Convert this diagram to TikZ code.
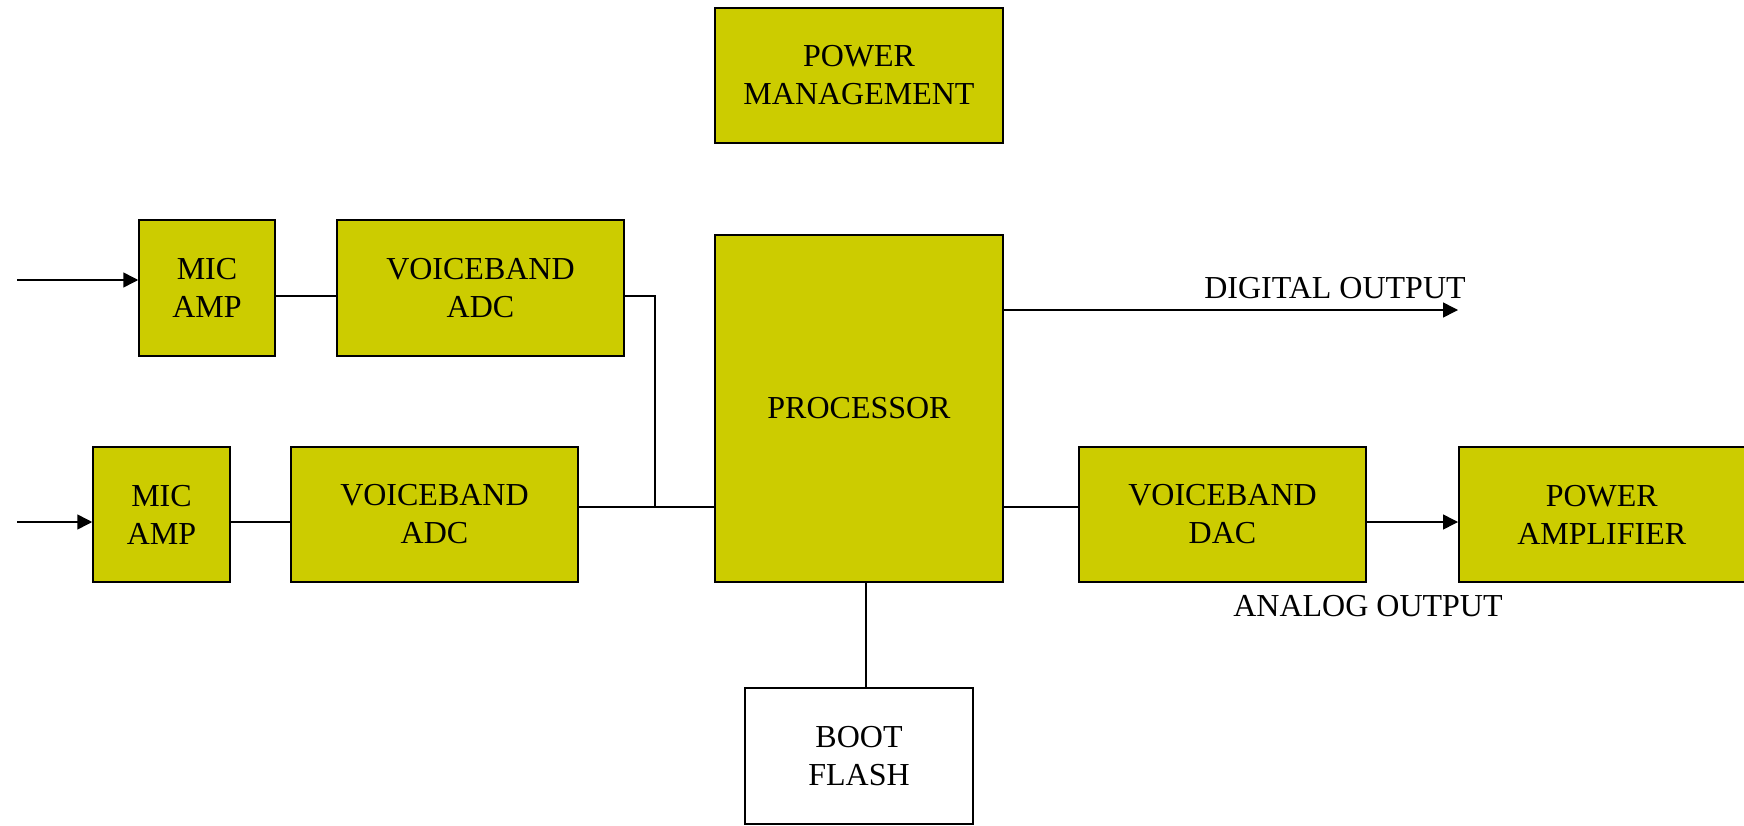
\documentclass[tikz,border=0pt]{standalone}
\usepackage{fontspec}
\setmainfont{Liberation Serif}
\usepackage{xcolor}
\usetikzlibrary{positioning, arrows.meta, calc}
\definecolor{BlkOlive}{RGB}{204,204,0}

\begin{document}
\begin{tikzpicture}[
      x=1pt, y=-1pt,
      block/.style={rectangle, draw=black, line width=1.5pt, fill=BlkOlive,
                    align=center, inner sep=0pt,
                    font=\fontsize{32}{38}\selectfont},
      wire/.style={line width=1.5pt},
      feed/.style={wire, -{Triangle[length=15pt, width=15pt]}},
      lbl/.style={font=\fontsize{32}{38}\selectfont}
    ]
    \useasboundingbox[fill=white] (0,0) rectangle (1744,826);

    % Power management
    \node[block, minimum width=288, minimum height=135] (pm) at (859, 75.5)
          {POWER\\MANAGEMENT};

    % Processor and boot flash
    \node[block, minimum width=288, minimum height=347] (proc) at (859, 408.5)
          {PROCESSOR};
    \node[block, fill=white, minimum width=228, minimum height=136] (boot) at (859, 756)
          {BOOT\\FLASH};

    % Input channel 1
    \node[block, minimum width=136, minimum height=136] (mic1) at (207, 288)
          {MIC\\AMP};
    \node[block, minimum width=287, minimum height=136] (adc1) at (480.5, 288)
          {VOICEBAND\\ADC};

    % Input channel 2
    \node[block, minimum width=137, minimum height=135] (mic2) at (161.5, 514.5)
          {MIC\\AMP};
    \node[block, minimum width=287, minimum height=135] (adc2) at (434.5, 514.5)
          {VOICEBAND\\ADC};

    % Output chain
    \node[block, minimum width=287, minimum height=135] (dac) at (1222.5, 514.5)
          {VOICEBAND\\DAC};
    \node[block, minimum width=290, minimum height=135, anchor=west] (pa) at (1458, 514.5)
          {\hspace*{-4pt}POWER\\\hspace*{-4pt}AMPLIFIER};

    % Free ends
    \coordinate (in1) at (17, 280);
    \coordinate (in2) at (17, 522);
    \coordinate (dout) at (1458, 310);
    \coordinate (bus) at (655, 507);

    % Connectors
    \draw[feed] (in1) -- (in1 -| mic1.west);
    \draw[feed] (in2) -- (in2 -| mic2.west);
    \draw[wire] ([yshift=-8pt]mic1.east) -- ([yshift=-8pt]adc1.west);
    \draw[wire] ([yshift=-7.5pt]mic2.east) -- ([yshift=-7.5pt]adc2.west);
    \draw[wire] ([yshift=-8pt]adc1.east) -| (bus) -- (bus -| proc.west);
    \draw[wire] (bus -| adc2.east) -- (bus);
    \draw[feed] (dout -| proc.east) -- (dout);
    \draw[wire] (bus -| proc.east) -- (bus -| dac.west);
    \draw[feed] ([yshift=-7.5pt]dac.east) -- ([yshift=-7.5pt]dac.east -| pa.west);
    \draw[wire] ([xshift=7pt]proc.south) -- ([xshift=7pt]proc.south |- boot.north);

    % Output labels
    \node[lbl] (dlbl) at (1335, 288) {DIGITAL OUTPUT};
    \node[lbl] (albl) at (1368, 606) {ANALOG OUTPUT};
  \end{tikzpicture}
\end{document}
